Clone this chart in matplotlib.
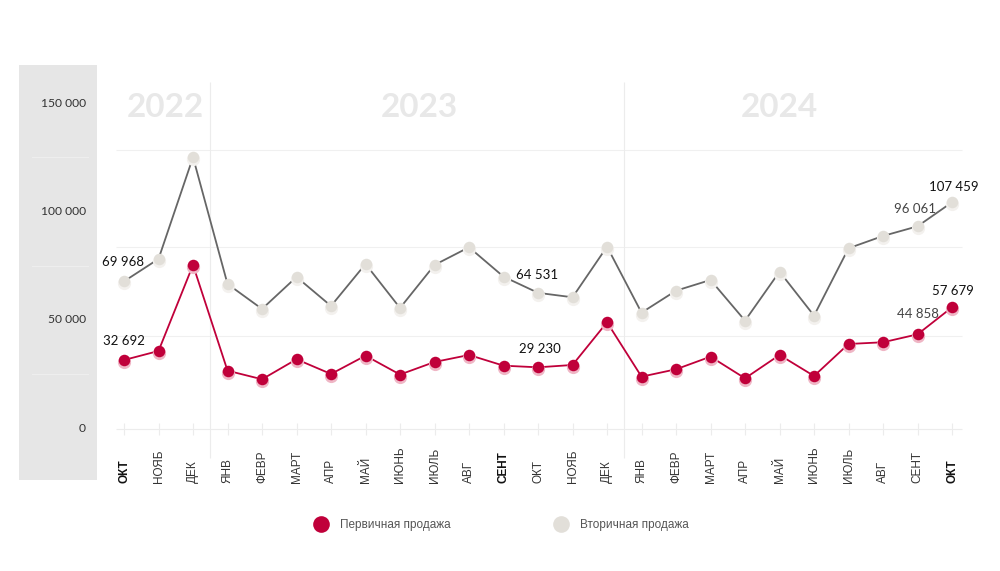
import numpy as np
import matplotlib.pyplot as plt
from matplotlib.lines import Line2D
from matplotlib.transforms import offset_copy, blended_transform_factory

# months Oct 2022 .. Oct 2024
months = ['ОКТ', 'НОЯБ', 'ДЕК', 'ЯНВ', 'ФЕВР', 'МАРТ', 'АПР', 'МАЙ', 'ИЮНЬ',
          'ИЮЛЬ', 'АВГ', 'СЕНТ', 'ОКТ', 'НОЯБ', 'ДЕК', 'ЯНВ', 'ФЕВР', 'МАРТ',
          'АПР', 'МАЙ', 'ИЮНЬ', 'ИЮЛЬ', 'АВГ', 'СЕНТ', 'ОКТ']
bold_months = [0, 11, 24]
years = ['2022', '2023', '2024']
year_x = [1.2, 8.55, 19.0]
year_breaks = [2.5, 14.5]

primary = [32692, 36970, 77740, 27640, 23560, 33040, 26070, 34750, 25800,
           31760, 35080, 30010, 29230, 30340, 50570, 24800, 28300, 34280,
           24020, 35080, 25120, 40290, 41100, 44858, 57679]
secondary = [69968, 80580, 128800, 68730, 56880, 72050, 58300, 78210, 57350,
             77740, 86130, 72190, 64531, 62420, 86410, 55130, 65550, 70630,
             51350, 74570, 53710, 85650, 91480, 96061, 107459]

y_ticks = [0, 50000, 100000, 150000]
grid_vals = [44000, 86300, 132200]

# (series, index, offset in points, colour)
annotations = [
    ('secondary', 0, (-1, 14), '#111111'),
    ('primary', 0, (0, 14), '#111111'),
    ('secondary', 12, (-1, 13), '#111111'),
    ('primary', 12, (1, 13), '#111111'),
    ('secondary', 23, (-2, 12.5), '#444444'),
    ('secondary', 24, (1, 11), '#111111'),
    ('primary', 23, (0, 14.5), '#444444'),
    ('primary', 24, (1, 11.5), '#111111'),
]

red = '#c0003a'
red_shadow = '#efb6c5'
grey = '#e2dfd9'
grey_shadow = '#f3f1ee'
grey_line = '#666666'

W, H = 1000, 571
fig = plt.figure(figsize=(10, 5.71), dpi=100)


def box(l, t, r, b):
    return [l / W, 1 - b / H, (r - l) / W, (b - t) / H]


def fmt(v):
    return f'{v:,}'.replace(',', ' ')


# grey band with y labels
band = fig.add_axes(box(19, 65, 97, 480))
band.set_facecolor('#e6e6e6')
band.set_xlim(0, 1)
band.set_ylim(-24000, 167540)
band.set_xticks([])
band.set_yticks([])
for s in band.spines.values():
    s.set_visible(False)
for v in [25000, 75000, 125000]:
    band.axhline(v, 0.17, 0.88, color='#eeeeee', lw=0.8)
for v in y_ticks:
    band.text(0.86, v, fmt(v), ha='right', va='center', fontsize=8.7,
              color='#333333', family='Lato')

# main plot
ax = fig.add_axes(box(97, 65, 1000, 495))
ax.patch.set_alpha(0)
ax.set_xlim(-0.783, 25.39)
ax.set_ylim(-31280, 172500)
ax.set_xticks([])
ax.set_yticks([])
for s in ax.spines.values():
    s.set_visible(False)

x = np.arange(len(months))

for v in grid_vals:
    ax.hlines(v, -0.23, 24.3, color='#f0f0f0', lw=0.8, zorder=0)
ax.hlines(0, -0.23, 24.3, color='#ececec', lw=0.8, zorder=0)
ax.vlines(x, -2800, 2800, color='#ececec', lw=0.8, zorder=0)
ax.vlines(year_breaks, -13750, 164500, color='#ececec', lw=0.8, zorder=0)

for yr, xp in zip(years, year_x):
    ax.text(xp, 152300, yr, ha='center', va='center', fontsize=24,
            fontweight='bold', color='#e8e8e8', family='Lato')

shadow = offset_copy(ax.transData, fig=fig, x=0, y=-2, units='dots')

ax.plot(x, secondary, color=grey_line, lw=1.3, zorder=2)
ax.plot(x, secondary, ls='', marker='o', ms=9.5, color=grey_shadow,
        mec='none', transform=shadow, zorder=3)
ax.plot(x, secondary, ls='', marker='o', ms=8.3, color=grey, mec='none', zorder=4)

ax.plot(x, primary, color=red, lw=1.3, zorder=2)
ax.plot(x, primary, ls='', marker='o', ms=9.5, color=red_shadow,
        mec='none', transform=shadow, zorder=3)
ax.plot(x, primary, ls='', marker='o', ms=8.3, color=red, mec='none', zorder=4)

series = {'primary': primary, 'secondary': secondary}
for name, i, off, col in annotations:
    v = series[name][i]
    ax.annotate(fmt(v), (i, v), xytext=off, textcoords='offset points',
                ha='center', va='center', fontsize=9.5, color=col,
                family='Lato', zorder=5)

# month labels, rotated and bottom aligned
lab_tr = blended_transform_factory(ax.transData, fig.transFigure)
for i, m in enumerate(months):
    bold = i in bold_months
    ax.text(i, 1 - 483 / H, m, rotation=90, ha='center', va='bottom',
            fontsize=8.5, family='Liberation Sans', transform=lab_tr,
            fontweight='bold' if bold else 'normal',
            color='#111111' if bold else '#333333', clip_on=False)

handles = [
    Line2D([], [], ls='', marker='o', ms=12, color=red, mec='none',
           label='Первичная продажа'),
    Line2D([], [], ls='', marker='o', ms=12, color=grey, mec='none',
           label='Вторичная продажа'),
]
leg = fig.legend(handles=handles, loc='center', bbox_to_anchor=(0.502, 1 - 525 / H),
                 ncol=2, frameon=False, handlelength=1.0, handletextpad=1.1,
                 columnspacing=8.8, prop={'family': 'Liberation Sans', 'size': 8.5})
for t in leg.get_texts():
    t.set_color('#555555')

fig.savefig('out.png', dpi=100)
